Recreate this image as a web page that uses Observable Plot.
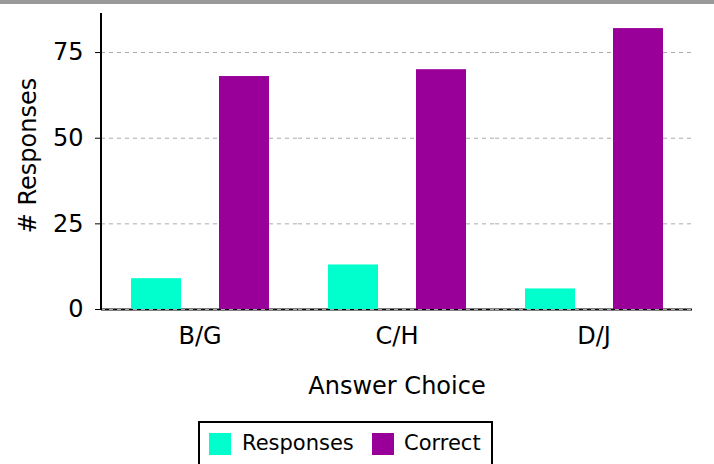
<!DOCTYPE html>
<html><head><meta charset="utf-8">
<script src="https://cdn.jsdelivr.net/npm/d3@7"></script>
<script src="https://cdn.jsdelivr.net/npm/@observablehq/plot@0.6"></script>
<style>
body{margin:0;background:#fff;font-family:"DejaVu Sans",sans-serif;}
#bar{height:4px;background:#999;}
#chart svg, #chart svg text{font-family:"DejaVu Sans",sans-serif !important;font-size:24px !important;}
#legend{position:absolute;left:198px;top:421px;width:295px;height:50px;border:2px solid #000;box-sizing:border-box;font-size:21px;}
.sw{position:absolute;top:10px;width:22px;height:22px;}
.lt{position:absolute;top:8px;line-height:24px;}
</style></head>
<body>
<div id="bar"></div>
<div id="chart"></div>
<div id="legend"></div>
<script>
const groups = ["B/G", "C/H", "D/J"];
const seriesNames = ["Responses", "Correct"];
const responses = [9, 13, 6];
const correct = [68, 70, 82];
const colors = ["#00ffcc", "#990099"];
const yTicks = [0, 25, 50, 75];

const data = [];
groups.forEach((g, i) => {
  data.push({group: g, series: seriesNames[0], value: responses[i]});
  data.push({group: g, series: seriesNames[1], value: correct[i]});
});

const plot = Plot.plot({
  width: 714,
  height: 410,
  marginTop: 9,
  marginBottom: 105,
  marginLeft: 101,
  marginRight: 22,
  style: {fontFamily: "DejaVu Sans", fontSize: "24px", background: "#fff", overflow: "visible"},
  fx: {domain: groups, padding: 0, label: null},
  x: {domain: seriesNames, paddingInner: 0.432, paddingOuter: 0.335, axis: null},
  y: {domain: [0, 86.4], ticks: yTicks, label: null},
  color: {domain: seriesNames, range: colors},
  marks: [
    Plot.ruleY([0], {stroke: "#000", strokeWidth: 2}),
    Plot.gridY(yTicks, {stroke: "#aaa", strokeOpacity: 1, strokeDasharray: "4,4"}),
    Plot.barY(data, {fx: "group", x: "series", y: "value", fill: "series"}),
    Plot.axisY(yTicks, {tickSize: 6, tickPadding: 12, stroke: "#000", fontSize: 24, label: "# Responses", labelArrow: "none", labelAnchor: "center", labelOffset: 83, fill: "#000"}),
    Plot.axisFx({anchor: "bottom", tickSize: 0, tickPadding: 17, fontSize: 24, label: "Answer Choice", labelArrow: "none", labelAnchor: "center", labelOffset: 84, fill: "#000"})
  ]
});
document.getElementById("chart").appendChild(plot);
plot.style.display = "block";

const svg = d3.select(plot);
// nudge the y-axis title up to match the reference
svg.selectAll("g[aria-label='y-axis label'] text").each(function() {
  const t = d3.select(this);
  const tr = t.attr("transform") || "";
  t.attr("transform", "translate(0,-6) " + tr);
});

// y axis line on the left edge of the frame
svg.append("line")
  .attr("x1", 101).attr("x2", 101)
  .attr("y1", 9).attr("y2", 306)
  .attr("stroke", "#000").attr("stroke-width", 2);

const lg = document.getElementById("legend");
const pos = [[9, 42], [172, 204]];
seriesNames.forEach((s, i) => {
  const sw = document.createElement("div");
  sw.className = "sw"; sw.style.left = pos[i][0] + "px"; sw.style.background = colors[i];
  const t = document.createElement("div");
  t.className = "lt"; t.style.left = pos[i][1] + "px"; t.textContent = s;
  lg.appendChild(sw); lg.appendChild(t);
});
</script>
</body></html>
